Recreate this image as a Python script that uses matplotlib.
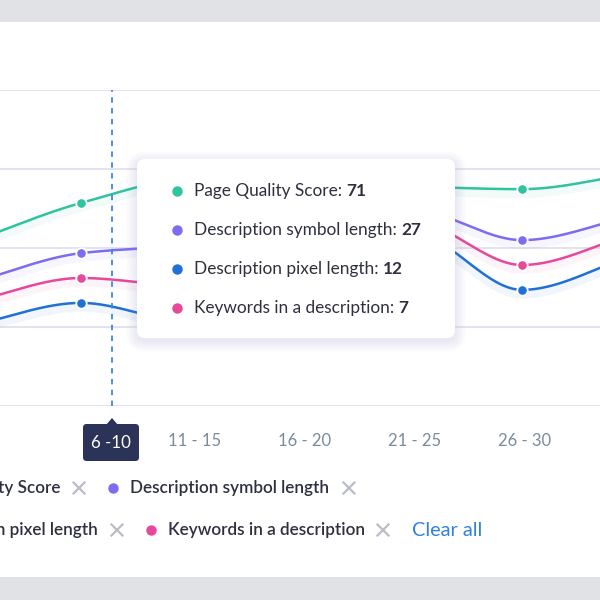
import numpy as np
import matplotlib.pyplot as plt
from matplotlib.patches import FancyBboxPatch, Rectangle, Polygon
from matplotlib.lines import Line2D
import matplotlib.transforms as mtransforms

plt.rcParams['font.family'] = ['Lato', 'DejaVu Sans']

# data (arbitrary units, gridlines every 20)
categories = ['1 - 5', '6 - 10', '11 - 15', '16 - 20', '21 - 25', '26 - 30', '31 - 35']
page_quality = [41.5, 51.4, 57.7, 58.5, 55.7, 54.9, 58.7]
symbol_length = [31.1, 38.7, 40.8, 45.8, 49.6, 42.0, 48.1]
pixel_length = [20.3, 26.1, 21.3, 34.9, 43.8, 29.4, 38.0]
keywords = [26.3, 32.4, 30.4, 39.5, 46.8, 35.7, 43.5]

series_names = ['Page Quality Score', 'Description symbol length',
                'Description pixel length', 'Keywords in a description']
series_values = [page_quality, symbol_length, pixel_length, keywords]
series_colors = ['#2fc39f', '#7b6cf2', '#1f70d8', '#e8489a']
tooltip_values = [71, 27, 12, 7]
hover_label = '6 -10'
hover_index = 1


def smooth(y, xs):
    # monotone cubic (Fritsch-Carlson) through equally spaced points
    y = np.asarray(y, float)
    d = np.diff(y)
    m = np.zeros_like(y)
    for k in range(1, len(y) - 1):
        if d[k - 1] * d[k] > 0:
            m[k] = 2 * d[k - 1] * d[k] / (d[k - 1] + d[k])
    m[0], m[-1] = d[0], d[-1]
    idx = np.clip(np.floor(xs).astype(int), 0, len(y) - 2)
    t = xs - idx
    h00 = 2 * t**3 - 3 * t**2 + 1
    h10 = t**3 - 2 * t**2 + t
    h01 = -2 * t**3 + 3 * t**2
    h11 = t**3 - t**2
    return h00 * y[idx] + h10 * m[idx] + h01 * y[idx + 1] + h11 * m[idx + 1]


W = 600.0


def P(x, y):
    # pixel position (from top-left) -> figure fraction
    return x / W, 1 - y / W


fig = plt.figure(figsize=(6, 6), dpi=100)
fig.patch.set_facecolor('white')
fig.add_artist(Rectangle((0, 1 - 22 / W), 1, 22 / W, transform=fig.transFigure,
                         fc='#e1e2e6', ec='none', zorder=0))
fig.add_artist(Rectangle((0, 0), 1, 23 / W, transform=fig.transFigure,
                         fc='#e1e2e6', ec='none', zorder=0))

ax = fig.add_axes([0, 1 - 406 / W, 1, 316 / W])
ax.set_facecolor('none')
step = 110.25
xmin, xmax = 1 - 81 / step, 1 + 519 / step
ax.set_xlim(xmin, xmax)
ax.set_ylim(0, 80)
for s in ax.spines.values():
    s.set_visible(False)
ax.set_xticks([])
ax.set_yticks([])
for gy in [0, 20, 40, 60, 80]:
    ax.axhline(gy, color='#e1e1ee', lw=1.3, zorder=1)

xs = np.linspace(0, len(categories) - 1, 600)
x = np.arange(len(categories))
shadow = mtransforms.offset_copy(ax.transData, fig=fig, x=0, y=-4, units='dots')
for name, vals, col in zip(series_names, series_values, series_colors):
    ys = smooth(vals, xs)
    ax.plot(xs, ys, color=col, lw=7, alpha=0.06, transform=shadow, zorder=2,
            solid_capstyle='round')
    ax.plot(xs, ys, color=col, lw=1.8, zorder=3)
    ax.plot(x, vals, 'o', color=col, ms=7.5, mec='white', mew=1.3, zorder=4)

# hover crosshair
x_hover = hover_index + 31 / step
ax.axvline(x_hover, color='#3a87e6', lw=1.3, ls=(0, (3, 3)), zorder=5)

# category labels (only those inside the visible range)
for i, c in enumerate(categories):
    if i == hover_index or not (xmin < i < xmax):
        continue
    ax.text(i + 3 / step, -35 / 316, c, transform=ax.get_xaxis_transform(), ha='center',
            va='center', fontsize=12, color='#7a8b99', clip_on=False)

# hovered label box
fig.add_artist(FancyBboxPatch(P(83, 461), 56 / W, 37 / W, transform=fig.transFigure,
                              boxstyle='round,pad=0,rounding_size=0.006',
                              fc='#2b3358', ec='none', zorder=6))
fig.add_artist(Polygon([P(106, 425), P(112, 418), P(118, 425)], closed=True,
                       transform=fig.transFigure, fc='#2b3358', ec='none', zorder=6))
fig.text(*P(111, 443), hover_label, ha='center', va='center', fontsize=12.2,
         color='white', zorder=7)

# tooltip
bx0, by0, bx1, by1 = 137, 159, 455, 338
for k in range(1, 12):
    fig.add_artist(FancyBboxPatch(P(bx0 - k, by1 + k + 3), (bx1 - bx0 + 2 * k) / W,
                                  (by1 - by0 + 2 * k) / W, transform=fig.transFigure,
                                  boxstyle='round,pad=0,rounding_size=%f' % ((8 + k) / W),
                                  fc='#8a8fa8', ec='none', alpha=0.012, zorder=8))
fig.add_artist(FancyBboxPatch(P(bx0, by1), (bx1 - bx0) / W, (by1 - by0) / W,
                              transform=fig.transFigure,
                              boxstyle='round,pad=0,rounding_size=%f' % (8 / W),
                              fc='white', ec='none', zorder=9))

renderer = fig.canvas.get_renderer()
row_y = [191, 230, 269, 308]
for ry, name, val, col in zip(row_y, series_names, tooltip_values, series_colors):
    fig.add_artist(Line2D([177 / W], [1 - ry / W], marker='o', ms=7.5, color=col,
                          mec='none', transform=fig.transFigure, zorder=10))
    t = fig.text(*P(194, ry), name + ': ', ha='left', va='center', fontsize=12.4,
                 color='#2e3040', zorder=10)
    bb = t.get_window_extent(renderer)
    fig.text(bb.x1 / W, 1 - ry / W, str(val), ha='left', va='center', fontsize=12.4,
             color='#2e3040', fontweight='bold', zorder=10)

# legend chips
def cross(cx, cy, r=5.5):
    for dx in (-r, r):
        fig.add_artist(Line2D([(cx - r) / W, (cx + r) / W],
                              [1 - (cy + dx) / W, 1 - (cy - dx) / W],
                              color='#babdc6', lw=1.6, transform=fig.transFigure))


leg = [
    (series_names[0], series_colors[0], 60, 488, 'right', 79),
    (series_names[1], series_colors[1], 130, 488, 'left', 349),
    (series_names[2], series_colors[2], 98, 530, 'right', 117),
    (series_names[3], series_colors[3], 168, 530, 'left', 383),
]
for name, col, tx, ty, ha, xx in leg:
    if ha == 'left':
        fig.add_artist(Line2D([(tx - 17) / W], [1 - ty / W], marker='o', ms=7.5,
                              color=col, mec='none', transform=fig.transFigure))
    fig.text(*P(tx, ty), name, ha=ha, va='center', fontsize=12.3, fontweight='semibold',
             color='#2e3040')
    cross(xx, ty)
fig.text(*P(412, 530), 'Clear all', ha='left', va='center', fontsize=14.3,
         color='#2f80e0')

fig.savefig('out.png', dpi=100)
